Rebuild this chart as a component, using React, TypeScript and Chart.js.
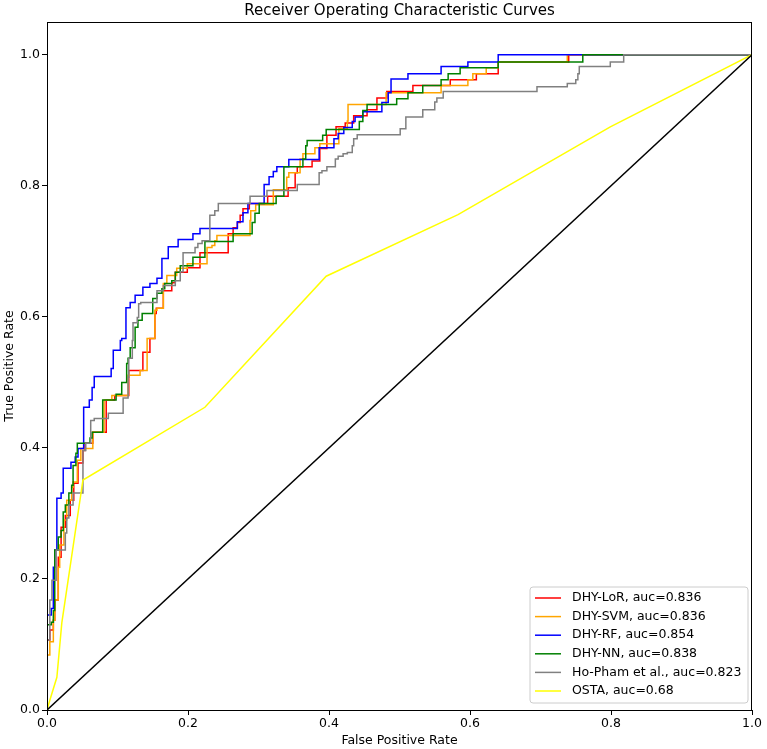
import React, { useEffect, useRef } from "react";
import { Chart, registerables } from "chart.js";

Chart.register(...registerables);

const FONT = "DejaVu Sans";

const chartTitle = "Receiver Operating Characteristic Curves";
const xAxisTitle = "False Positive Rate";
const yAxisTitle = "True Positive Rate";
const xTicks = [0, 0.2, 0.4, 0.6, 0.8, 1.0];
const yTicks = [0, 0.2, 0.4, 0.6, 0.8, 1.0];

const seriesNames = ["DHY-LoR", "DHY-SVM", "DHY-RF", "DHY-NN", "Ho-Pham et al.", "OSTA"];
const aucValues = ["0.836", "0.836", "0.854", "0.838", "0.823", "0.68"];
const seriesColors = ["#ff0000", "#ffa500", "#0000ff", "#008000", "#808080", "#ffff00"];

const lorFpr = [0, 0, 0.004, 0.009, 0.011, 0.016, 0.020, 0.026, 0.033, 0.038, 0.044, 0.051, 0.054, 0.065, 0.084, 0.096, 0.116, 0.136, 0.146, 0.153, 0.155, 0.165, 0.177, 0.182, 0.199, 0.217, 0.257, 0.264, 0.270, 0.274, 0.278, 0.287, 0.313, 0.342, 0.352, 0.355, 0.376, 0.387, 0.397, 0.410, 0.423, 0.435, 0.454, 0.468, 0.482, 0.519, 0.572, 0.609, 0.640, 0.740, 1.0];
const lorTpr = [0, 0.107, 0.122, 0.137, 0.168, 0.233, 0.279, 0.297, 0.320, 0.346, 0.377, 0.396, 0.407, 0.424, 0.473, 0.480, 0.518, 0.546, 0.567, 0.605, 0.613, 0.640, 0.652, 0.668, 0.675, 0.698, 0.727, 0.736, 0.744, 0.755, 0.765, 0.773, 0.784, 0.797, 0.820, 0.829, 0.838, 0.857, 0.877, 0.890, 0.896, 0.907, 0.916, 0.934, 0.944, 0.953, 0.962, 0.971, 0.989, 1.0, 1.0];

const svmFpr = [0, 0, 0.004, 0.009, 0.011, 0.016, 0.018, 0.024, 0.028, 0.035, 0.037, 0.043, 0.048, 0.065, 0.081, 0.092, 0.115, 0.132, 0.142, 0.153, 0.156, 0.165, 0.170, 0.184, 0.199, 0.227, 0.234, 0.238, 0.241, 0.288, 0.289, 0.296, 0.321, 0.340, 0.343, 0.359, 0.363, 0.380, 0.387, 0.414, 0.426, 0.427, 0.481, 0.559, 0.597, 0.604, 0.623, 0.640, 0.738, 1.0];
const svmTpr = [0, 0.084, 0.104, 0.137, 0.168, 0.218, 0.252, 0.290, 0.320, 0.340, 0.348, 0.381, 0.399, 0.424, 0.473, 0.480, 0.511, 0.518, 0.567, 0.610, 0.613, 0.651, 0.663, 0.674, 0.681, 0.706, 0.709, 0.716, 0.724, 0.747, 0.762, 0.771, 0.794, 0.813, 0.820, 0.841, 0.849, 0.858, 0.864, 0.887, 0.899, 0.924, 0.942, 0.953, 0.962, 0.971, 0.980, 0.989, 1.0, 1.0];

const rfFpr = [0, 0, 0.006, 0.009, 0.011, 0.014, 0.020, 0.023, 0.034, 0.040, 0.044, 0.052, 0.060, 0.064, 0.067, 0.091, 0.094, 0.104, 0.106, 0.112, 0.118, 0.125, 0.136, 0.146, 0.156, 0.163, 0.172, 0.186, 0.207, 0.217, 0.270, 0.278, 0.285, 0.308, 0.315, 0.321, 0.326, 0.343, 0.386, 0.407, 0.413, 0.421, 0.433, 0.437, 0.448, 0.475, 0.484, 0.488, 0.512, 0.559, 0.597, 0.640, 1.0];
const rfTpr = [0, 0.145, 0.155, 0.218, 0.244, 0.323, 0.331, 0.369, 0.378, 0.386, 0.399, 0.462, 0.473, 0.492, 0.509, 0.521, 0.549, 0.564, 0.567, 0.614, 0.622, 0.633, 0.645, 0.651, 0.659, 0.689, 0.707, 0.718, 0.727, 0.735, 0.745, 0.759, 0.773, 0.802, 0.814, 0.822, 0.829, 0.840, 0.858, 0.872, 0.880, 0.889, 0.898, 0.905, 0.913, 0.927, 0.942, 0.963, 0.971, 0.982, 0.989, 1.0, 1.0];

const nnFpr = [0, 0, 0.006, 0.009, 0.011, 0.016, 0.020, 0.023, 0.026, 0.031, 0.035, 0.037, 0.041, 0.043, 0.061, 0.064, 0.079, 0.098, 0.106, 0.113, 0.115, 0.118, 0.125, 0.129, 0.135, 0.150, 0.156, 0.163, 0.167, 0.177, 0.182, 0.189, 0.207, 0.224, 0.264, 0.291, 0.295, 0.301, 0.325, 0.336, 0.363, 0.367, 0.369, 0.391, 0.396, 0.443, 0.448, 0.454, 0.496, 0.512, 0.533, 0.559, 0.569, 0.586, 0.640, 0.760, 1.0];
const nnTpr = [0, 0.130, 0.134, 0.152, 0.244, 0.264, 0.274, 0.302, 0.313, 0.331, 0.343, 0.373, 0.392, 0.407, 0.415, 0.424, 0.473, 0.482, 0.500, 0.529, 0.537, 0.553, 0.584, 0.595, 0.605, 0.628, 0.636, 0.643, 0.651, 0.655, 0.668, 0.678, 0.691, 0.715, 0.727, 0.744, 0.758, 0.773, 0.784, 0.829, 0.841, 0.861, 0.869, 0.877, 0.886, 0.898, 0.915, 0.924, 0.933, 0.942, 0.953, 0.962, 0.971, 0.980, 0.989, 1.0, 1.0];

const hpFpr = [0, 0, 0.004, 0.007, 0.013, 0.026, 0.028, 0.031, 0.037, 0.051, 0.055, 0.062, 0.067, 0.087, 0.108, 0.115, 0.116, 0.121, 0.122, 0.128, 0.130, 0.133, 0.156, 0.165, 0.182, 0.189, 0.193, 0.210, 0.214, 0.220, 0.231, 0.238, 0.243, 0.288, 0.312, 0.355, 0.386, 0.390, 0.397, 0.409, 0.413, 0.420, 0.426, 0.433, 0.435, 0.440, 0.501, 0.509, 0.533, 0.550, 0.553, 0.562, 0.695, 0.738, 0.750, 0.753, 0.755, 0.799, 0.818, 1.0];
const hpTpr = [0, 0.107, 0.168, 0.198, 0.244, 0.270, 0.293, 0.313, 0.331, 0.396, 0.407, 0.442, 0.445, 0.453, 0.476, 0.508, 0.537, 0.564, 0.591, 0.599, 0.620, 0.622, 0.640, 0.648, 0.655, 0.669, 0.698, 0.706, 0.712, 0.716, 0.755, 0.762, 0.773, 0.784, 0.793, 0.802, 0.820, 0.823, 0.829, 0.841, 0.845, 0.849, 0.851, 0.861, 0.872, 0.878, 0.887, 0.905, 0.916, 0.928, 0.934, 0.944, 0.951, 0.956, 0.962, 0.971, 0.982, 0.989, 1.0, 1.0];

const ostaFpr = [0, 0.004, 0.014, 0.021, 0.051, 0.224, 0.396, 0.583, 0.799, 1.0];
const ostaTpr = [0, 0.015, 0.050, 0.133, 0.351, 0.462, 0.662, 0.756, 0.890, 1.0];

const chanceFpr = [0, 1];
const chanceTpr = [0, 1];

const toPoints = (xs: number[], ys: number[]) => xs.map((x, i) => ({ x, y: ys[i] }));

const seriesX = [lorFpr, svmFpr, rfFpr, nnFpr, hpFpr, ostaFpr];
const seriesY = [lorTpr, svmTpr, rfTpr, nnTpr, hpTpr, ostaTpr];
const seriesStepped = [true, true, true, true, true, false];

const framePlugin = {
  id: "frameAndLegend",
  afterDraw(chart: any) {
    const { ctx, chartArea } = chart;
    const { left, right, top, bottom } = chartArea;
    ctx.save();
    ctx.strokeStyle = "#000";
    ctx.lineWidth = 1;
    ctx.strokeRect(left + 0.5, top + 0.5, right - left - 1, bottom - top);

    // title, centred over the plot area
    ctx.fillStyle = "#000";
    ctx.font = `15px "${FONT}"`;
    ctx.textAlign = "center";
    ctx.textBaseline = "middle";
    ctx.fillText(chartTitle, (left + right) / 2, top - 11);

    // legend
    const bw = 218;
    const bh = 116;
    const bx = right - 4 - bw;
    const by = bottom - 7 - bh;
    const r = 3;
    ctx.beginPath();
    ctx.moveTo(bx + r, by);
    ctx.lineTo(bx + bw - r, by);
    ctx.quadraticCurveTo(bx + bw, by, bx + bw, by + r);
    ctx.lineTo(bx + bw, by + bh - r);
    ctx.quadraticCurveTo(bx + bw, by + bh, bx + bw - r, by + bh);
    ctx.lineTo(bx + r, by + bh);
    ctx.quadraticCurveTo(bx, by + bh, bx, by + bh - r);
    ctx.lineTo(bx, by + r);
    ctx.quadraticCurveTo(bx, by, bx + r, by);
    ctx.closePath();
    ctx.fillStyle = "rgba(255,255,255,0.8)";
    ctx.fill();
    ctx.strokeStyle = "#cccccc";
    ctx.lineWidth = 1;
    ctx.stroke();

    ctx.font = `12.5px "${FONT}"`;
    ctx.textBaseline = "middle";
    ctx.textAlign = "left";
    seriesNames.forEach((name, i) => {
      const yy = by + 11 + i * 18.6;
      ctx.strokeStyle = seriesColors[i];
      ctx.lineWidth = 1.5;
      ctx.beginPath();
      ctx.moveTo(bx + 5, yy);
      ctx.lineTo(bx + 31, yy);
      ctx.stroke();
      ctx.fillStyle = "#000";
      ctx.fillText(`${name}, auc=${aucValues[i]}`, bx + 42, yy);
    });
    ctx.restore();
  },
};

export default function App() {
  const ref = useRef<HTMLCanvasElement | null>(null);

  useEffect(() => {
    if (!ref.current) return;
    const font = { family: FONT, size: 12.5 };
    const datasets: any[] = seriesNames.map((name, i) => ({
      label: name,
      data: toPoints(seriesX[i], seriesY[i]),
      borderColor: seriesColors[i],
      backgroundColor: seriesColors[i],
      borderWidth: 1.5,
      pointRadius: 0,
      tension: 0,
      fill: false,
      stepped: seriesStepped[i] ? "before" : false,
      order: 7 - i,
    }));
    datasets.push({
      label: "chance",
      data: toPoints(chanceFpr, chanceTpr),
      borderColor: "#000000",
      borderWidth: 1.5,
      pointRadius: 0,
      fill: false,
      order: 0,
    });

    const chart = new Chart(ref.current, {
      type: "line",
      data: { datasets },
      options: {
        responsive: false,
        animation: false,
        events: [],
        layout: { padding: { left: 0, right: 15, top: 22, bottom: 0 } },
        plugins: {
          legend: { display: false },
          tooltip: { enabled: false },
          title: { display: false },
        },
        scales: {
          x: {
            type: "linear",
            min: 0,
            max: 1,
            afterBuildTicks: (s: any) => {
              s.ticks = xTicks.map((value) => ({ value }));
            },
            afterFit: (s: any) => {
              s.height = 39;
            },
            ticks: {
              color: "#000",
              font,
              padding: 1,
              maxRotation: 0,
              autoSkip: false,
              callback: (v: any) => Number(v).toFixed(1),
            },
            grid: { drawOnChartArea: false, drawTicks: true, tickLength: 5, color: "#000" },
            border: { display: true, color: "#000", width: 1 },
            title: {
              display: true,
              text: xAxisTitle,
              color: "#000",
              font,
              padding: { top: 1, bottom: 1 },
            },
          },
          y: {
            type: "linear",
            min: 0,
            max: 1.05,
            afterBuildTicks: (s: any) => {
              s.ticks = yTicks.map((value) => ({ value }));
            },
            afterFit: (s: any) => {
              s.width = 47;
            },
            ticks: {
              color: "#000",
              font,
              padding: 2,
              autoSkip: false,
              callback: (v: any) => Number(v).toFixed(1),
            },
            grid: { drawOnChartArea: false, drawTicks: true, tickLength: 5, color: "#000" },
            border: { display: true, color: "#000", width: 1 },
            title: {
              display: true,
              text: yAxisTitle,
              color: "#000",
              font,
              padding: { top: 2, bottom: 2 },
            },
          },
        },
      },
      plugins: [framePlugin],
    } as any);
    return () => chart.destroy();
  }, []);

  return (
    <div style={{ position: "absolute", left: 0, top: 0, width: 767, height: 749, background: "#fff" }}>
      <canvas ref={ref} width={767} height={749} style={{ display: "block" }} />
    </div>
  );
}
